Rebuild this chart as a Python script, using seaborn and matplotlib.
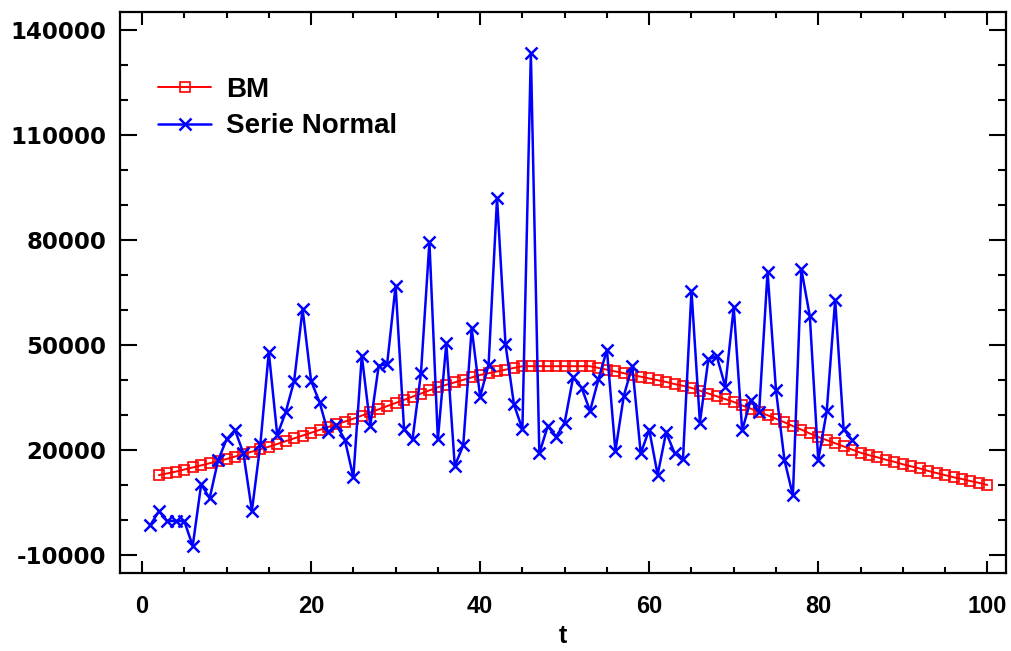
import matplotlib
matplotlib.use("Agg")
import matplotlib.pyplot as plt
from matplotlib.ticker import FixedLocator, MultipleLocator
import seaborn as sns

# BM (smoothed curve), t = 2..100
t_bm = list(range(2, 101))
bm = [
    12900, 13400, 13900, 14500, 15100, 15700, 16300, 16900, 17500,          # 2-10
    18200, 18900, 19600, 20300, 21000, 21800, 22600, 23400, 24200, 25000,   # 11-20
    25800, 26600, 27400, 28200, 29000, 29900, 30800, 31700, 32600, 33500,   # 21-30
    34400, 35300, 36200, 37100, 38000, 38700, 39400, 40100, 40800, 41500,   # 31-40
    42000, 42500, 43000, 43500, 44000, 44000, 44000, 44000, 44000, 44000,   # 41-50
    44000, 44000, 44000, 43500, 43000, 42500, 42000, 41500, 41000, 40500,   # 51-60
    40000, 39500, 38900, 38400, 37800, 37000, 36200, 35400, 34600, 33800,   # 61-70
    32800, 31900, 30900, 30000, 29000, 28000, 26900, 25900, 24800, 23800,   # 71-80
    22900, 22000, 21100, 20200, 19300, 18600, 18000, 17300, 16700, 16000,   # 81-90
    15400, 14800, 14100, 13500, 12900, 12300, 11800, 11200, 10700, 10100,   # 91-100
]

# Serie Normal, t = 1..84
t_serie = list(range(1, 85))
serie = [
    -1300, 2600, -200, -200, -200, -7300, 10300, 6300, 17100, 23100,        # 1-10
    25800, 19100, 2700, 21700, 48000, 24300, 30900, 39800, 60300, 39800,    # 11-20
    33800, 25100, 27200, 23000, 12300, 47000, 27000, 44100, 44600, 67000,   # 21-30
    26000, 23100, 42000, 79500, 23100, 50600, 15500, 21400, 54800, 35300,   # 31-40
    44400, 92000, 50300, 33100, 26000, 133400, 19100, 26900, 23900, 27900,  # 41-50
    40800, 37900, 31200, 40300, 48700, 19800, 35600, 44000, 19100, 25900,   # 51-60
    13000, 25100, 19200, 17600, 65500, 27900, 46000, 46800, 38200, 60800,   # 61-70
    25700, 34300, 30800, 70900, 37100, 17200, 7100, 71700, 58300, 17200,    # 71-80
    31100, 62900, 26000, 22900,                                             # 81-84
]

y_ticks = [-10000, 20000, 50000, 80000, 110000, 140000]
x_ticks = [0, 20, 40, 60, 80, 100]

sns.set_theme(style="ticks")
plt.rcParams["font.family"] = ["DejaVu Sans"]
plt.rcParams["axes.unicode_minus"] = False
plt.rcParams["text.color"] = "black"

fig, ax = plt.subplots(figsize=(10.12, 6.51), dpi=100)
fig.subplots_adjust(left=0.1186, right=0.994, top=0.981, bottom=0.120)

sns.lineplot(x=t_bm, y=bm, ax=ax, color="#ff0000", lw=1.4,
             marker="s", markersize=7.5, mfc="none", mec="#ff0000", mew=1.2,
             label="BM")
sns.lineplot(x=t_serie, y=serie, ax=ax, color="#0000ff", lw=1.8,
             marker="x", markersize=9, mec="#0000ff", mew=1.8,
             label="Serie Normal")

ax.set_xlim(-2.6, 102.2)
ax.set_ylim(-15000, 145000)
ax.yaxis.set_major_locator(FixedLocator(y_ticks))
ax.yaxis.set_minor_locator(MultipleLocator(10000))
ax.xaxis.set_major_locator(FixedLocator(x_ticks))
ax.xaxis.set_minor_locator(MultipleLocator(5))

for sp in ax.spines.values():
    sp.set_visible(True)
    sp.set_color("black")
    sp.set_linewidth(1.6)

ax.tick_params(axis="both", which="both", direction="in", top=True, right=True,
               color="black", width=1.5)
ax.tick_params(axis="y", which="major", length=12, pad=10)
ax.tick_params(axis="y", which="minor", length=6)
ax.tick_params(axis="x", which="major", length=9, pad=16)
ax.tick_params(axis="x", which="minor", length=4.5)

for lab in ax.get_yticklabels():
    lab.set_fontsize(16.5)
    lab.set_fontweight("bold")
    lab.set_color("black")
for lab in ax.get_xticklabels():
    lab.set_family(["Liberation Sans Narrow", "Liberation Sans"])
    lab.set_fontsize(17)
    lab.set_fontweight("bold")
    lab.set_color("black")

ax.set_xlabel("t", fontsize=18, fontweight="bold", color="black",
              family=["Liberation Sans", "DejaVu Sans"], labelpad=4)
ax.set_ylabel("")

leg = ax.legend(loc="upper left", bbox_to_anchor=(0.043, 0.885), frameon=False,
                borderaxespad=0, borderpad=0, handlelength=1.9,
                handletextpad=0.55, labelspacing=0.38, labelcolor="black",
                prop={"family": ["Liberation Sans", "DejaVu Sans"],
                      "weight": "bold", "size": 20})

fig.savefig("out.png", dpi=100)
